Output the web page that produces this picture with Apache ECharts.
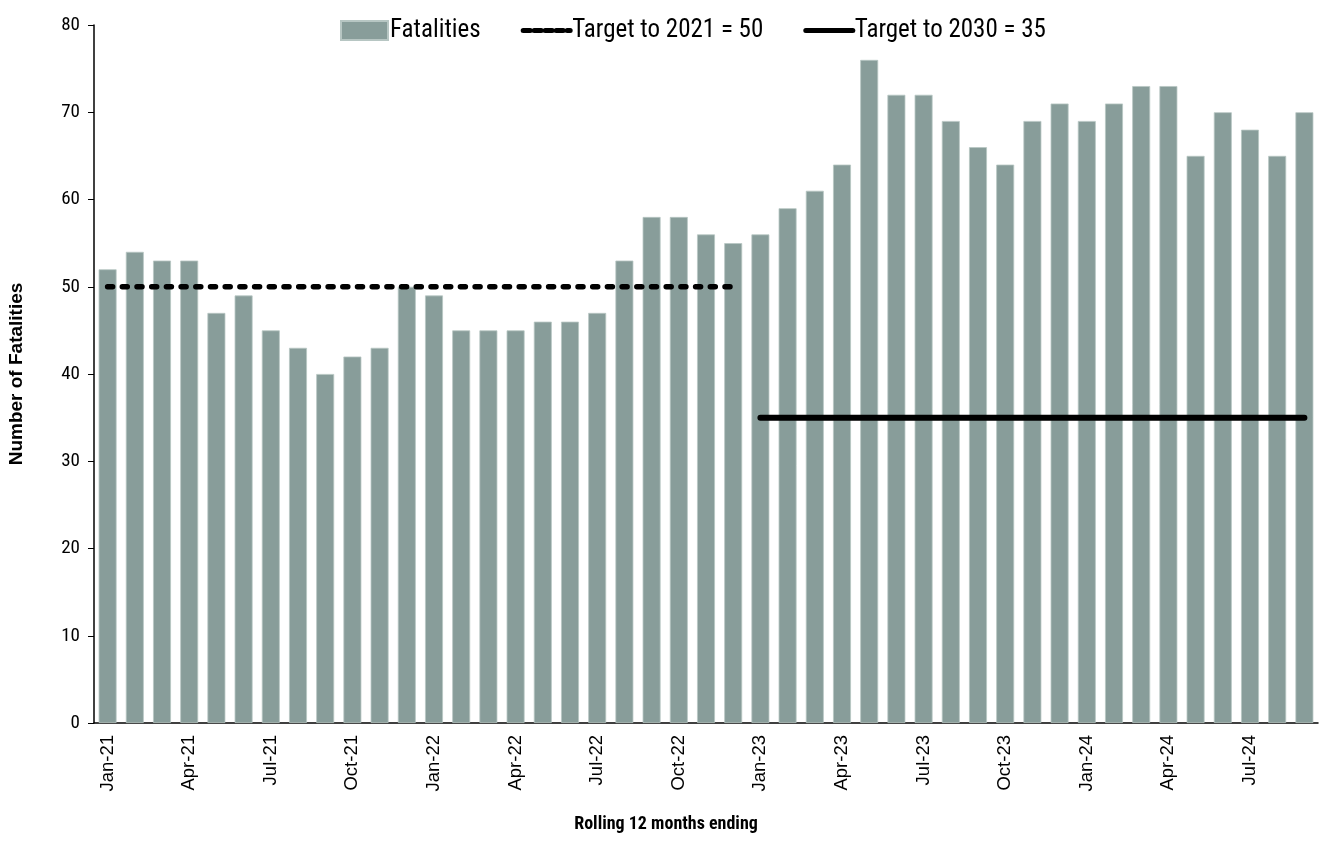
<!DOCTYPE html>
<html><head><meta charset="utf-8">
<script src="https://cdn.jsdelivr.net/npm/echarts@6/dist/echarts.min.js"></script>
<style>html,body{margin:0;padding:0;background:#fff}#c{width:1321px;height:864px}</style>
</head><body><div id="c"></div>
<script>
const categories = ["Jan-21","Feb-21","Mar-21","Apr-21","May-21","Jun-21","Jul-21","Aug-21","Sep-21","Oct-21","Nov-21","Dec-21",
"Jan-22","Feb-22","Mar-22","Apr-22","May-22","Jun-22","Jul-22","Aug-22","Sep-22","Oct-22","Nov-22","Dec-22",
"Jan-23","Feb-23","Mar-23","Apr-23","May-23","Jun-23","Jul-23","Aug-23","Sep-23","Oct-23","Nov-23","Dec-23",
"Jan-24","Feb-24","Mar-24","Apr-24","May-24","Jun-24","Jul-24","Aug-24","Sep-24"];
const fatalities = [52,54,53,53,47,49,45,43,40,42,43,50,
49,45,45,45,46,46,47,53,58,58,56,55,
56,59,61,64,76,72,72,69,66,64,69,71,
69,71,73,73,65,70,68,65,70];
const target2021 = [50,50,50,50,50,50,50,50,50,50,50,50,
50,50,50,50,50,50,50,50,50,50,50,50,
null,null,null,null,null,null,null,null,null,null,null,null,
null,null,null,null,null,null,null,null,null];
const target2030 = [null,null,null,null,null,null,null,null,null,null,null,null,
null,null,null,null,null,null,null,null,null,null,null,null,
35,35,35,35,35,35,35,35,35,35,35,35,
35,35,35,35,35,35,35,35,35];
const yTicks = {min:0, max:80, interval:10};

const narrow = 'Roboto Condensed';
const wide = 'Liberation Sans';
const chart = echarts.init(document.getElementById('c'), null, {renderer:'canvas'});
chart.setOption({
  animation:false,
  backgroundColor:'#fff',
  grid:{left:94, right:3, top:25, bottom:141, containLabel:false, outerBoundsMode:'none'},
  legend:{
    left:335, top:13, itemGap:40, itemWidth:47, itemHeight:19,
    textStyle:{fontFamily:narrow, fontSize:25, color:'#000', padding:[0,0,0,-3]},
    data:[{name:'Fatalities', icon:'rect'},
          {name:'Target to 2021 = 50', itemStyle:{opacity:0}, lineStyle:{width:5, type:[7,4]}},
          {name:'Target to 2030 = 35', itemStyle:{opacity:0}, lineStyle:{width:5}}]
  },
  xAxis:{
    type:'category', data:categories, boundaryGap:true,
    name:'Rolling 12 months ending', nameLocation:'middle', nameGap:92,
    nameTextStyle:{fontFamily:narrow, fontSize:18, fontWeight:'bold', color:'#000', padding:[0,80,0,0]},
    axisLine:{lineStyle:{color:'#000', width:1.5}},
    axisTick:{length:8, lineStyle:{color:'#000'}},
    axisLabel:{interval:2, rotate:90, fontFamily:wide, fontSize:18.5, color:'#000', margin:12}
  },
  yAxis:{
    type:'value', min:yTicks.min, max:yTicks.max, interval:yTicks.interval,
    name:'Number of Fatalities', nameLocation:'middle', nameGap:68, nameRotate:90,
    nameTextStyle:{fontFamily:wide, fontSize:19, fontWeight:'bold', color:'#000'},
    splitLine:{show:false},
    axisLine:{show:true, lineStyle:{color:'#000', width:1.5}},
    axisTick:{show:true, length:6, lineStyle:{color:'#000'}},
    axisLabel:{fontFamily:narrow, fontSize:19, color:'#000', margin:14}
  },
  series:[
    {name:'Fatalities', type:'bar', data:fatalities, barCategoryGap:'34%',
     itemStyle:{color:'#889d9a', borderColor:'#b7c6c3', borderWidth:0.8}},
    {name:'Target to 2021 = 50', type:'line', data:target2021, symbol:'none', connectNulls:false,
     lineStyle:{color:'#000', width:5.5, type:[5,9.7], cap:'round'}, itemStyle:{color:'#000'}, z:5},
    {name:'Target to 2030 = 35', type:'line', data:target2030, symbol:'none', connectNulls:false,
     lineStyle:{color:'#000', width:6, cap:'round'}, itemStyle:{color:'#000'}, z:5}
  ]
});
</script></body></html>
